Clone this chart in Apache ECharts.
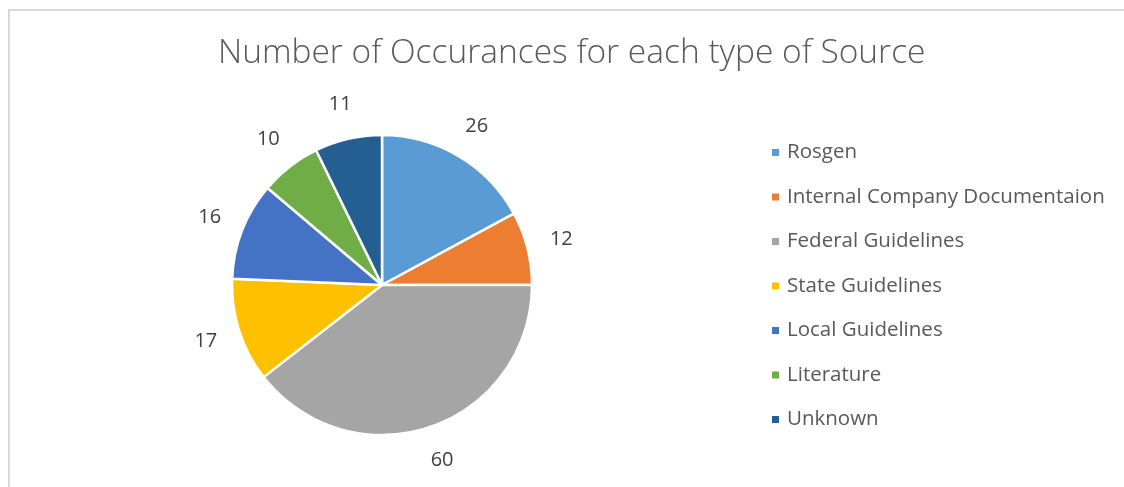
<!DOCTYPE html>
<html>
<head>
<meta charset="utf-8">
<style>
html,body{margin:0;padding:0;background:#fff;}
#chart{width:1124px;height:487px;}
</style>
<script src="https://cdn.jsdelivr.net/npm/echarts@6/dist/echarts.min.js"></script>
</head>
<body>
<div id="chart"></div>
<script>
const titleText = 'Number of Occurances for each type of Source';
const categories = ['Rosgen', 'Internal Company Documentaion', 'Federal Guidelines', 'State Guidelines', 'Local Guidelines', 'Literature', 'Unknown'];
const values = [26, 12, 60, 17, 16, 10, 11];
const colors = ['#5B9BD5', '#ED7D31', '#A5A5A5', '#FFC000', '#4472C4', '#70AD47', '#255E91'];

const pieData = categories.map((c, i) => ({ name: c, value: values[i], itemStyle: { color: colors[i] } }));
const labelData = categories.map((c, i) => ({ name: c, value: values[i] }));

const chart = echarts.init(document.getElementById('chart'), null, { renderer: 'canvas' });
chart.setOption({
  animation: false,
  backgroundColor: '#fff',
  color: colors,
  graphic: [{
    type: 'polyline',
    shape: { points: [[9, 500], [9, 10], [1130, 10]] },
    style: { stroke: '#d9d9d9', lineWidth: 2, fill: null },
    silent: true
  }],
  title: {
    text: titleText,
    left: 218,
    top: 36,
    padding: 0,
    textStyle: { fontFamily: 'Open Sans', fontWeight: 300, fontSize: 33.5, color: '#595959' }
  },
  legend: {
    orient: 'vertical',
    left: 770,
    top: 142,
    padding: 0,
    icon: 'rect',
    itemWidth: 9,
    itemHeight: 9,
    itemGap: 23.5,
    data: categories,
    textStyle: { fontFamily: 'Open Sans', fontSize: 20.5, color: '#595959', lineHeight: 21, padding: [0, 0, 0, 2] }
  },
  series: [
    {
      type: 'pie',
      center: [382, 285],
      radius: [0, 150],
      startAngle: 90,
      clockwise: true,
      silent: true,
      label: { show: false },
      labelLine: { show: false },
      itemStyle: { borderColor: '#fff', borderWidth: 2.5 },
      data: pieData
    },
    {
      type: 'pie',
      center: [382, 285],
      radius: [0, 364],
      startAngle: 90,
      clockwise: true,
      silent: true,
      itemStyle: { color: 'rgba(0,0,0,0)', borderWidth: 0 },
      label: {
        show: true,
        position: 'inside',
        formatter: '{c}',
        fontFamily: 'Open Sans',
        fontSize: 20,
        color: '#404040'
      },
      labelLine: { show: false },
      data: labelData
    }
  ]
});
</script>
</body>
</html>
